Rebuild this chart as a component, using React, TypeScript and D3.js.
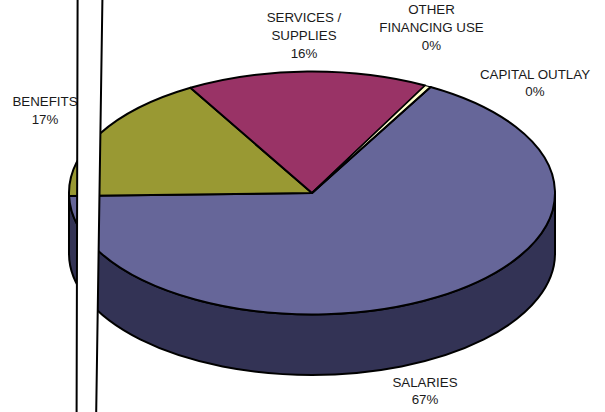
import React from "react";
import * as d3 from "d3";

// Budget share per category, in percent, clockwise from the top right.
const categories = ["SALARIES", "BENEFITS", "SERVICES / SUPPLIES", "OTHER FINANCING USE", "CAPITAL OUTLAY"];
const shares = [66.5, 17.05, 16.05, 0.4, 0];
const sliceColors = ["#666699", "#999933", "#993366", "#ffffcc", "#ffffff"];
const labelLines = [["SALARIES"], ["BENEFITS"], ["SERVICES /", "SUPPLIES"], ["OTHER", "FINANCING USE"], ["CAPITAL OUTLAY"]];
const labelAnchors = [[425, 386.5], [45, 106], [304, 22], [431.5, 14], [535, 78.5]];

const WIDTH = 605;
const HEIGHT = 412;
const CX = 312;
const CY = 193;
const RX = 243;
const RY = 121.5;
const DEPTH = 60.5;
const START_ANGLE = (29.2 * Math.PI) / 180;
const WALL_COLOR = "#333355";
const LINE_STEP = 17.8;

// The white strip that runs over the chart from top to bottom.
const stripT = d3.scaleLinear().domain([0, HEIGHT]).range([0, 1]);
const stripLeft = (y: number) => 77.6 - 1 * stripT(y);
const stripRight = (y: number) => 102.4 - 6.2 * stripT(y);

export default function App() {
  const pie = d3
    .pie<number>()
    .sort(null)
    .startAngle(START_ANGLE)
    .endAngle(START_ANGLE + 2 * Math.PI)(shares);
  const arc = d3.arc<d3.PieArcDatum<number>>().innerRadius(0).outerRadius(RX);
  const wall =
    `M${CX - RX},${CY} A${RX},${RY} 0 0 0 ${CX + RX},${CY} ` +
    `L${CX + RX},${CY + DEPTH} A${RX},${RY} 0 0 1 ${CX - RX},${CY + DEPTH} Z`;
  const strip = `M${stripLeft(-2)},-2 L${stripRight(-2)},-2 L${stripRight(HEIGHT + 2)},${HEIGHT + 2} L${stripLeft(HEIGHT + 2)},${HEIGHT + 2} Z`;

  return (
    <svg
      width={WIDTH}
      height={HEIGHT}
      viewBox={`0 0 ${WIDTH} ${HEIGHT}`}
      style={{ position: "absolute", left: 0, top: 0, background: "#fff" }}
    >
      <path d={wall} fill={WALL_COLOR} stroke="#000" strokeWidth={2} />
      <g transform={`translate(${CX},${CY}) scale(1,${RY / RX})`}>
        {pie.map((d, i) => (
          <path
            key={categories[i]}
            d={arc(d) ?? ""}
            fill={sliceColors[i]}
            stroke="#000"
            strokeWidth={i === 3 ? 1.2 : 2}
            strokeLinejoin="round"
            vectorEffect="non-scaling-stroke"
          />
        ))}
      </g>
      <g fontFamily="'Liberation Sans', Arial, sans-serif" fontSize={13.33} fill="#1a1a1a" textAnchor="middle">
        {categories.map((c, i) => (
          <text key={c} x={labelAnchors[i][0]} y={labelAnchors[i][1]}>
            {[...labelLines[i], `${Math.round(shares[i])}%`].map((line, j) => (
              <tspan key={j} x={labelAnchors[i][0]} dy={j === 0 ? 0 : LINE_STEP}>
                {line}
              </tspan>
            ))}
          </text>
        ))}
      </g>
      <path d={strip} fill="#fff" stroke="#000" strokeWidth={2} />
    </svg>
  );
}
